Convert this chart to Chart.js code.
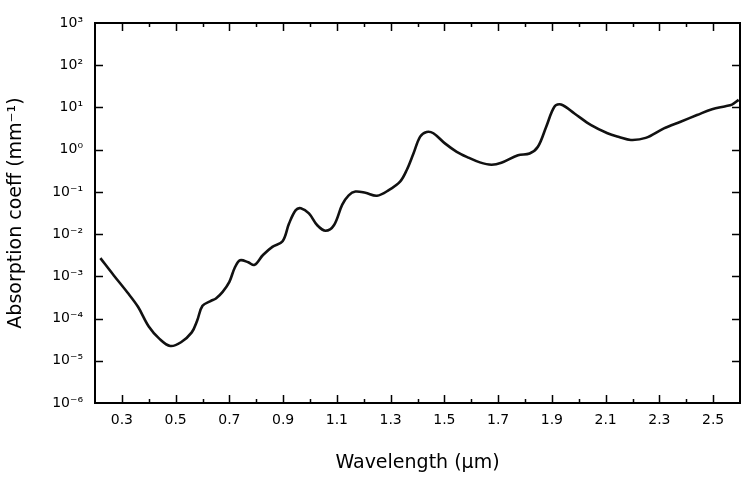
<!DOCTYPE html>
<html>
<head>
<meta charset="utf-8">
<script src="https://cdn.jsdelivr.net/npm/chart.js@4.4.1/dist/chart.umd.min.js"></script>
<style>
html, body { margin: 0; padding: 0; background: #fff; }
#wrap { width: 749px; height: 482px; }
</style>
</head>
<body>
<div id="wrap"><canvas id="chart" width="749" height="482"></canvas></div>
<script>
// Wavelength (um) and absorption coefficient (mm^-1)
const wavelength = [
    0.22, 0.27, 0.32, 0.36, 0.40, 0.44, 0.48, 0.52, 0.56, 0.58,
    0.60, 0.63, 0.65, 0.675, 0.70, 0.72, 0.74, 0.77, 0.793, 0.825,
    0.86, 0.898, 0.922, 0.947, 0.966, 0.996, 1.027, 1.058, 1.089, 1.12,
    1.144, 1.169, 1.206, 1.249, 1.293, 1.336, 1.36, 1.385, 1.41, 1.434,
    1.459, 1.502, 1.546, 1.589, 1.632, 1.675, 1.712, 1.774, 1.817, 1.848,
    1.879, 1.91, 1.934, 1.984, 2.046, 2.107, 2.15, 2.194, 2.249, 2.317,
    2.379, 2.44, 2.496, 2.546, 2.57, 2.595
];
const absorption = [
    2.7e-3, 1.05e-3, 4.2e-4, 1.9e-4, 6.5e-5, 3.3e-5, 2.24e-5, 2.75e-5, 4.7e-5, 8.9e-5,
    2.0e-4, 2.6e-4, 3.0e-4, 4.3e-4, 7.4e-4, 1.6e-3, 2.4e-3, 2.15e-3, 1.86e-3, 3.2e-3,
    5.0e-3, 6.8e-3, 1.78e-2, 3.7e-2, 4.1e-2, 3.1e-2, 1.62e-2, 1.2e-2, 1.62e-2, 5.0e-2,
    8.3e-2, 0.102, 0.095, 0.081, 0.11, 0.178, 0.33, 0.81, 2.04, 2.63,
    2.45, 1.41, 0.89, 0.65, 0.50, 0.44, 0.49, 0.74, 0.81, 1.17,
    3.5, 10.5, 11.7, 7.2, 3.8, 2.45, 2.0, 1.7, 1.9, 3.2,
    4.6, 6.6, 9.1, 10.7, 11.7, 15.1
];

// Axis ticks
const xTickLabels = ['0.3', '0.5', '0.7', '0.9', '1.1', '1.3', '1.5', '1.7', '1.9', '2.1', '2.3', '2.5'];
const yTickValues = [1e-6, 1e-5, 1e-4, 1e-3, 1e-2, 1e-1, 1e0, 1e1, 1e2, 1e3];
const yTickLabels = ['10⁻⁶', '10⁻⁵', '10⁻⁴', '10⁻³', '10⁻²', '10⁻¹', '10⁰', '10¹', '10²', '10³'];

const tickFont = { family: 'DejaVu Sans', size: 14 };
const titleFont = { family: 'DejaVu Sans', size: 19 };

// Frame with inward ticks on all four sides
const frameTicks = {
    id: 'frameTicks',
    afterDatasetsDraw(chart) {
        const { ctx, chartArea: a, scales: { x, y } } = chart;
        ctx.save();
        ctx.strokeStyle = '#000';
        ctx.lineWidth = 1.5;
        x.ticks.forEach(t => {
            const px = Math.round(x.getPixelForValue(t.value)) + 0.5;
            if (px <= a.left + 2 || px >= a.right - 2) return;
            const len = t.label ? 8 : 4;
            ctx.beginPath();
            ctx.moveTo(px, a.bottom); ctx.lineTo(px, a.bottom - len);
            ctx.moveTo(px, a.top); ctx.lineTo(px, a.top + len);
            ctx.stroke();
        });
        y.ticks.forEach(t => {
            const py = Math.round(y.getPixelForValue(t.value)) + 0.5;
            if (py <= a.top + 2 || py >= a.bottom - 2) return;
            ctx.beginPath();
            ctx.moveTo(a.left, py); ctx.lineTo(a.left + 8, py);
            ctx.moveTo(a.right, py); ctx.lineTo(a.right - 8, py);
            ctx.stroke();
        });
        ctx.lineWidth = 2;
        ctx.strokeRect(a.left, a.top, a.right - a.left, a.bottom - a.top);
        ctx.restore();
    }
};

new Chart(document.getElementById('chart'), {
    type: 'line',
    data: {
        datasets: [{
            data: wavelength.map((w, i) => ({ x: w, y: absorption[i] })),
            borderColor: '#111',
            borderWidth: 2.6,
            pointRadius: 0,
            tension: 0.35,
            fill: false
        }]
    },
    options: {
        responsive: false,
        animation: false,
        devicePixelRatio: 1,
        layout: { padding: { top: 23, right: 6, bottom: 0, left: 0 } },
        plugins: {
            legend: { display: false },
            tooltip: { enabled: false }
        },
        scales: {
            x: {
                type: 'linear',
                min: 0.2,
                max: 2.6,
                grid: { display: false, drawTicks: false },
                border: { display: false },
                ticks: {
                    stepSize: 0.1,
                    autoSkip: false,
                    maxRotation: 0,
                    padding: 9,
                    color: '#000',
                    font: tickFont,
                    callback: v => {
                        const s = (Math.round(v * 10) / 10).toFixed(1);
                        return xTickLabels.includes(s) ? s : '';
                    }
                },
                title: {
                    display: true,
                    text: 'Wavelength (μm)',
                    color: '#000',
                    font: titleFont,
                    padding: { top: 0, bottom: 8 }
                },
                afterFit: s => { s.height = 79; }
            },
            y: {
                type: 'logarithmic',
                min: 1e-6,
                max: 1e3,
                grid: { display: false, drawTicks: false },
                border: { display: false },
                afterBuildTicks: s => { s.ticks = yTickValues.map(v => ({ value: v })); },
                ticks: {
                    padding: 12,
                    color: '#000',
                    font: tickFont,
                    callback: v => yTickLabels[yTickValues.findIndex(t => Math.abs(Math.log10(t) - Math.log10(v)) < 0.01)]
                },
                title: {
                    display: true,
                    text: 'Absorption coeff (mm⁻¹)',
                    color: '#000',
                    font: titleFont,
                    padding: { top: 5, bottom: 0 }
                },
                afterFit: s => { s.width = 95; }
            }
        }
    },
    plugins: [frameTicks]
});
</script>
</body>
</html>
